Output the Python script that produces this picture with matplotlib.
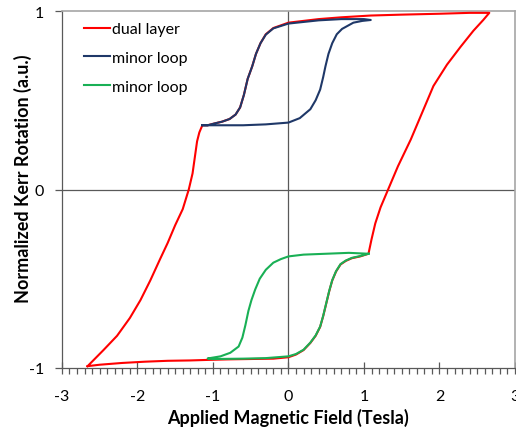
import matplotlib
matplotlib.use("Agg")
import matplotlib.pyplot as plt
from matplotlib.ticker import MultipleLocator

plt.rcParams['font.family'] = ['Lato', 'DejaVu Sans']
plt.rcParams['axes.unicode_minus'] = False

# Major hysteresis loop of the dual layer (field in Tesla, normalized Kerr rotation)
dual_field = [-2.66, -2.5, -2.2, -1.9, -1.6, -1.3, -1.07, -0.8, -0.5, -0.2, 0.0, 0.1, 0.2, 0.29,
              0.36, 0.42, 0.46, 0.5, 0.54, 0.58, 0.63, 0.69, 0.76, 0.84, 0.95, 1.06,
              1.1, 1.15, 1.22, 1.32, 1.45, 1.62, 1.78, 1.92, 2.1, 2.28, 2.45, 2.58, 2.66,
              2.4, 2.0, 1.5, 1.09, 0.7, 0.4, 0.0, -0.2, -0.3, -0.37, -0.43, -0.48, -0.54,
              -0.59, -0.64, -0.7, -0.78, -0.88, -0.98, -1.07, -1.14,
              -1.18, -1.21, -1.24, -1.27, -1.32, -1.40, -1.5, -1.6, -1.70, -1.83, -1.96,
              -2.1, -2.27, -2.45, -2.66]
dual_kerr = [-0.99, -0.982, -0.972, -0.965, -0.96, -0.958, -0.955, -0.952, -0.95, -0.948, -0.94,
             -0.925, -0.9, -0.86, -0.82, -0.77, -0.71, -0.64, -0.57, -0.51, -0.46, -0.42, -0.40,
             -0.385, -0.375, -0.36,
             -0.28, -0.19, -0.1, 0.0, 0.13, 0.28, 0.44, 0.58, 0.70, 0.80, 0.89, 0.95, 0.99,
             0.99, 0.985, 0.98, 0.975, 0.965, 0.955, 0.935, 0.905, 0.87, 0.82, 0.76, 0.69, 0.62,
             0.53, 0.46, 0.42, 0.395, 0.38, 0.37, 0.36, 0.36,
             0.32, 0.27, 0.18, 0.09, 0.0, -0.11, -0.2, -0.3, -0.39, -0.51, -0.62,
             -0.72, -0.82, -0.9, -0.99]

# Minor loop starting from the upper intermediate plateau
upper_field = [-1.14, -0.9, -0.6, -0.3, 0.0, 0.15, 0.29, 0.36, 0.42, 0.46, 0.49, 0.53, 0.58,
               0.64, 0.71, 0.86, 0.98, 1.09,
               1.0, 0.7, 0.4, 0.0, -0.2, -0.3, -0.37, -0.43, -0.48, -0.54, -0.59, -0.64,
               -0.7, -0.78, -0.88, -0.98, -1.07, -1.14]
upper_kerr = [0.36, 0.36, 0.36, 0.365, 0.375, 0.40, 0.45, 0.50, 0.56, 0.63, 0.69, 0.76, 0.82,
              0.87, 0.90, 0.935, 0.945, 0.95,
              0.955, 0.955, 0.948, 0.93, 0.903, 0.868, 0.82, 0.76, 0.69, 0.62, 0.53, 0.46,
              0.42, 0.395, 0.38, 0.37, 0.36, 0.36]

# Minor loop starting from the lower intermediate plateau
lower_field = [1.06, 0.8, 0.5, 0.2, 0.0, -0.1, -0.2, -0.3, -0.38, -0.44, -0.49, -0.53, -0.57,
               -0.61, -0.66, -0.77, -0.9, -1.07,
               -1.0, -0.6, -0.3, 0.0, 0.1, 0.2, 0.29, 0.36, 0.42, 0.46, 0.5, 0.54, 0.58,
               0.63, 0.69, 0.76, 0.84, 0.95, 1.06]
lower_kerr = [-0.36, -0.355, -0.36, -0.365, -0.375, -0.39, -0.41, -0.45, -0.5, -0.56, -0.62,
              -0.68, -0.76, -0.83, -0.88, -0.915, -0.935, -0.947,
              -0.95, -0.948, -0.945, -0.935, -0.922, -0.898, -0.858, -0.818, -0.768, -0.708,
              -0.638, -0.568, -0.508, -0.458, -0.418, -0.398, -0.383, -0.373, -0.36]

x_ticks = [-3, -2, -1, 0, 1, 2, 3]
y_ticks = [-1, 0, 1]

fig = plt.figure(figsize=(5.16, 4.31), dpi=100)
ax = fig.add_axes([0.120, 0.144, 0.878, 0.828])

ax.plot(dual_field, dual_kerr, color='#ff0000', lw=1.5, label='dual layer', zorder=3)
ax.plot(upper_field, upper_kerr, color='#1f3868', lw=1.5, label='minor loop', zorder=4)
ax.plot(lower_field, lower_kerr, color='#19b055', lw=1.5, label='minor loop', zorder=5)

ax.axhline(0, color='#595959', lw=0.9, zorder=2)
ax.axvline(0, color='#595959', lw=0.9, zorder=2)

ax.set_xlim(-3, 3)
ax.set_ylim(-1, 1)
ax.set_xticks(x_ticks)
ax.set_yticks(y_ticks)
ax.xaxis.set_minor_locator(MultipleLocator(0.1))
ax.tick_params(axis='x', which='major', direction='inout', length=9, width=0.9,
               color='#595959', labelsize=11.5, pad=11)
ax.tick_params(axis='x', which='minor', direction='out', length=4, width=0.9, color='#595959')
ax.tick_params(axis='y', which='major', direction='out', length=5, width=0.9,
               color='#595959', labelsize=11.5, pad=8)

for side in ['left', 'bottom']:
    ax.spines[side].set_color('#595959')
    ax.spines[side].set_linewidth(0.9)
for side in ['top', 'right']:
    ax.spines[side].set_color('#a6a6a6')
    ax.spines[side].set_linewidth(1.2)

ax.set_xlabel('Applied Magnetic Field (Tesla)', fontsize=13, fontweight='bold')
ax.set_ylabel('Normalized Kerr Rotation (a.u.)', fontsize=13, fontweight='bold')
ax.xaxis.set_label_coords(0.5, -0.112)
ax.yaxis.set_label_coords(-0.066, 0.532)

ax.legend(loc='upper left', frameon=False, fontsize=11.5, handlelength=1.6,
          handletextpad=0.15, labelspacing=0.9, borderaxespad=0.3,
          bbox_to_anchor=(0.025, 1.0))

fig.savefig('out.png', dpi=100)
